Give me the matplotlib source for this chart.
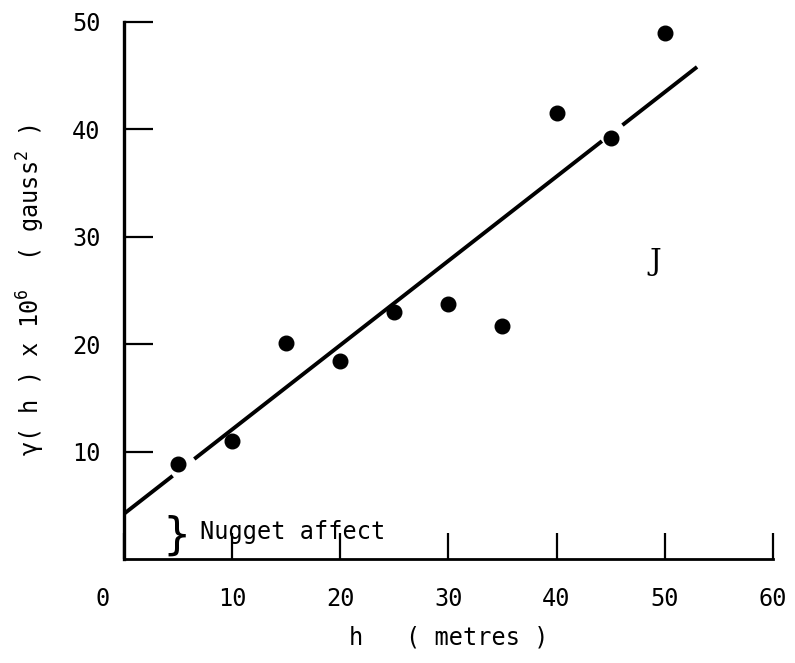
import numpy as np
import matplotlib.pyplot as plt
from matplotlib.transforms import ScaledTranslation

# semivariogram values
h = [5, 10, 15, 20, 25, 30, 35, 40, 45, 50]
gamma = [8.8, 11.0, 20.1, 18.4, 23.0, 23.7, 21.7, 41.5, 39.2, 49.0]

# fitted linear model: gamma = nugget + slope * h
nugget = 4.2
slope = 0.785
line_pieces = [(0, 4.5), (6.5, 44.2), (46.1, 53.0)]  # line drawn broken round two points

xticks = [0, 10, 20, 30, 40, 50, 60]
yticks = [10, 20, 30, 40, 50]

mono = 'DejaVu Sans Mono'
plt.rcParams['font.family'] = mono
plt.rcParams['mathtext.fontset'] = 'custom'
plt.rcParams['mathtext.rm'] = mono
plt.rcParams['mathtext.default'] = 'regular'

fig = plt.figure(figsize=(7.95, 6.63), dpi=100)
ax = fig.add_axes([0.156, 0.157, 0.816, 0.810])

for x0, x1 in line_pieces:
    xs = np.array([x0, x1])
    ax.plot(xs, nugget + slope * xs, color='black', lw=2.8, solid_capstyle='butt')

ax.plot(h, gamma, 'o', color='black', markersize=10.5)

ax.set_xlim(0, 60)
ax.set_ylim(0, 50)
for s in ['top', 'right']:
    ax.spines[s].set_visible(False)
ax.spines['left'].set_linewidth(2.4)
ax.spines['bottom'].set_linewidth(2.0)

ax.set_xticks(xticks)
ax.set_yticks(yticks)
ax.tick_params(axis='x', direction='in', length=19, width=1.6, pad=20, labelsize=17)
ax.tick_params(axis='y', direction='in', length=21, width=1.6, pad=17, labelsize=17)
# the zero sits a little to the left of the corner in the original
zero = ax.get_xticklabels()[0]
zero.set_transform(zero.get_transform() + ScaledTranslation(-0.21, 0, fig.dpi_scale_trans))

ax.set_xlabel('h   ( metres )', fontsize=17, labelpad=11)
ax.set_ylabel(r'$\gamma$( h ) x 10$^6$  ( gauss$^2$ )', fontsize=17, labelpad=18)

ax.text(4.9, nugget / 2, '}', fontsize=32, fontfamily='DejaVu Sans', ha='center', va='center')
ax.text(7.0, 2.5, 'Nugget affect', fontsize=17, ha='left', va='center')
ax.text(49.1, 27.6, 'J', fontsize=21, fontfamily='DejaVu Serif', ha='center', va='center')

fig.savefig('out.png', dpi=100)
